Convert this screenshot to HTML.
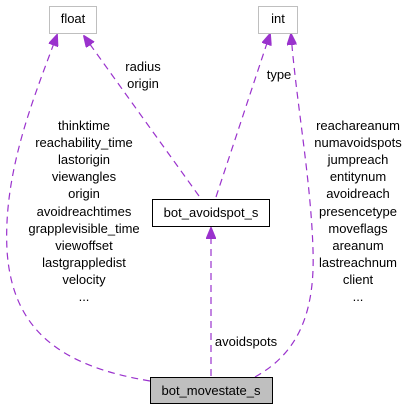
<!DOCTYPE html>
<html><head><style>
body{margin:0;background:#fff;}
svg{display:block;font-family:"Liberation Sans",sans-serif;font-size:13px;}
</style></head><body>
<svg width="410" height="411" xmlns="http://www.w3.org/2000/svg">
<defs><marker id="a" markerWidth="12" markerHeight="10" refX="11" refY="5" orient="auto" markerUnits="userSpaceOnUse">
<path d="M0,0 L12,5 L0,10 z" fill="#9a32cd" stroke="#9a32cd"/></marker></defs>
<g fill="none" stroke="#9a32cd" stroke-width="1.2" stroke-dasharray="7,5">
<path d="M150,381 C 60,366 12,330 7,250 C 3,170 35,95 57,35" marker-end="url(#a)"/>
<path d="M199,196 L84,36" marker-end="url(#a)"/>
<path d="M216,197 L270,34" marker-end="url(#a)"/>
<path d="M255,377 C 300,352 315,310 313,250 C 311,180 296,100 291,34" marker-end="url(#a)"/>
<path d="M211,376 L211,228" marker-end="url(#a)"/>
</g>
<rect x="49.5" y="6.5" width="47" height="27" fill="#fff" stroke="#bfbfbf"/>
<text x="73" y="23" text-anchor="middle">float</text>
<rect x="258.5" y="6.5" width="39" height="27" fill="#fff" stroke="#bfbfbf"/>
<text x="278" y="23" text-anchor="middle">int</text>
<rect x="152.5" y="199.5" width="117" height="27" fill="#fff" stroke="#000"/>
<text x="211" y="217" text-anchor="middle">bot_avoidspot_s</text>
<rect x="150.5" y="377.5" width="122" height="26" fill="#bfbfbf" stroke="#000"/>
<text x="211" y="395" text-anchor="middle">bot_movestate_s</text>
<g text-anchor="middle">
<text x="143" y="71">radius</text><text x="143" y="88">origin</text>
<text x="279" y="79">type</text>
<text x="246" y="346">avoidspots</text>
<text x="84" y="130">thinktime</text>
<text x="84" y="147">reachability_time</text>
<text x="84" y="164">lastorigin</text>
<text x="84" y="181">viewangles</text>
<text x="84" y="198">origin</text>
<text x="84" y="216">avoidreachtimes</text>
<text x="84" y="233">grapplevisible_time</text>
<text x="84" y="250">viewoffset</text>
<text x="84" y="267">lastgrappledist</text>
<text x="84" y="284">velocity</text>
<text x="84" y="301">...</text>
<text x="358" y="130">reachareanum</text>
<text x="358" y="147">numavoidspots</text>
<text x="358" y="164">jumpreach</text>
<text x="358" y="181">entitynum</text>
<text x="358" y="198">avoidreach</text>
<text x="358" y="216">presencetype</text>
<text x="358" y="233">moveflags</text>
<text x="358" y="250">areanum</text>
<text x="358" y="267">lastreachnum</text>
<text x="358" y="284">client</text>
<text x="358" y="301">...</text>
</g>
</svg>
</body></html>
